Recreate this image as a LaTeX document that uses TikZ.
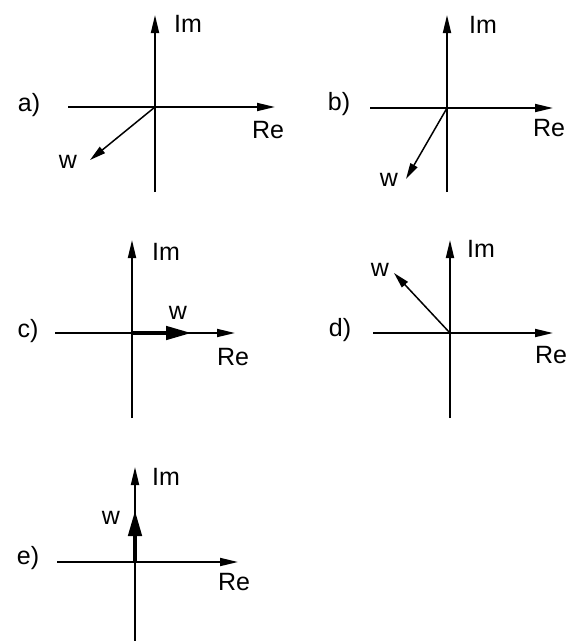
\documentclass[tikz,border=0pt]{standalone}
\usepackage{fontspec}
\setmainfont{Liberation Sans}
\usetikzlibrary{arrows.meta}
\begin{document}
\begin{tikzpicture}[x=1pt,y=-1pt,
 axis/.style={line width=1.8pt,-{Triangle[length=18pt,width=8pt]}},
 vec/.style={line width=1.5pt,-{Triangle[length=16pt,width=8pt]}},
 thickvec/.style={line width=4.5pt,-{Triangle[length=26pt,width=13pt]}},
 lbl/.style={font=\fontsize{25}{25}\selectfont, inner sep=0pt},
]
\useasboundingbox (0,0) rectangle (566,641);
% ---- a)
\coordinate (oa) at (155,107);
\coordinate (a-top) at (155,15);
\coordinate (a-bot) at (155,192);
\coordinate (a-left) at (68,107);
\coordinate (a-right) at (275,107);
\coordinate (a-w) at (90,160);
\draw[axis] (a-bot) -- (a-top);
\draw[axis] (a-left) -- (a-right);
\draw[vec] (oa) -- (a-w);
\node[lbl] (a-im) at (188,24) {Im};
\node[lbl] (a-re) at (268,130) {Re};
\node[lbl] (a-lab) at (29,105) {a)};
\node[lbl] (a-wl) at (68,162) {w};
% ---- b)
\coordinate (ob) at (447,108);
\coordinate (b-top) at (447,15);
\coordinate (b-bot) at (447,192);
\coordinate (b-left) at (370,108);
\coordinate (b-right) at (553,108);
\coordinate (b-w) at (406,179);
\draw[axis] (b-bot) -- (b-top);
\draw[axis] (b-left) -- (b-right);
\draw[vec] (ob) -- (b-w);
\node[lbl] (b-im) at (483,25) {Im};
\node[lbl] (b-re) at (549,128) {Re};
\node[lbl] (b-lab) at (339,104) {b)};
\node[lbl] (b-wl) at (389,180) {w};
% ---- c)
\coordinate (oc) at (132,333);
\coordinate (c-top) at (132,240);
\coordinate (c-bot) at (132,418);
\coordinate (c-left) at (55,333);
\coordinate (c-right) at (235,333);
\coordinate (c-w) at (192,333);
\draw[axis] (c-bot) -- (c-top);
\draw[axis] (c-left) -- (c-right);
\draw[thickvec] (oc) -- (c-w);
\node[lbl] (c-im) at (166,252) {Im};
\node[lbl] (c-re) at (233,357) {Re};
\node[lbl] (c-lab) at (28,331) {c)};
\node[lbl] (c-wl) at (178,313) {w};
% ---- d)
\coordinate (od) at (450,333);
\coordinate (d-top) at (450,240);
\coordinate (d-bot) at (450,418);
\coordinate (d-left) at (373,333);
\coordinate (d-right) at (553,333);
\coordinate (d-w) at (394,273);
\draw[axis] (d-bot) -- (d-top);
\draw[axis] (d-left) -- (d-right);
\draw[vec] (od) -- (d-w);
\node[lbl] (d-im) at (481,249) {Im};
\node[lbl] (d-re) at (551,355) {Re};
\node[lbl] (d-lab) at (340,330) {d)};
\node[lbl] (d-wl) at (380,270) {w};
% ---- e)
\coordinate (oe) at (135,562);
\coordinate (e-top) at (135,467);
\coordinate (e-bot) at (135,641);
\coordinate (e-left) at (57,562);
\coordinate (e-right) at (238,562);
\coordinate (e-w) at (135,510);
\draw[axis] (e-bot) -- (e-top);
\draw[axis] (e-left) -- (e-right);
\draw[thickvec] (oe) -- (e-w);
\node[lbl] (e-im) at (166,477) {Im};
\node[lbl] (e-re) at (234,582) {Re};
\node[lbl] (e-lab) at (28,558) {e)};
\node[lbl] (e-wl) at (111,518) {w};
\end{tikzpicture}
\end{document}
